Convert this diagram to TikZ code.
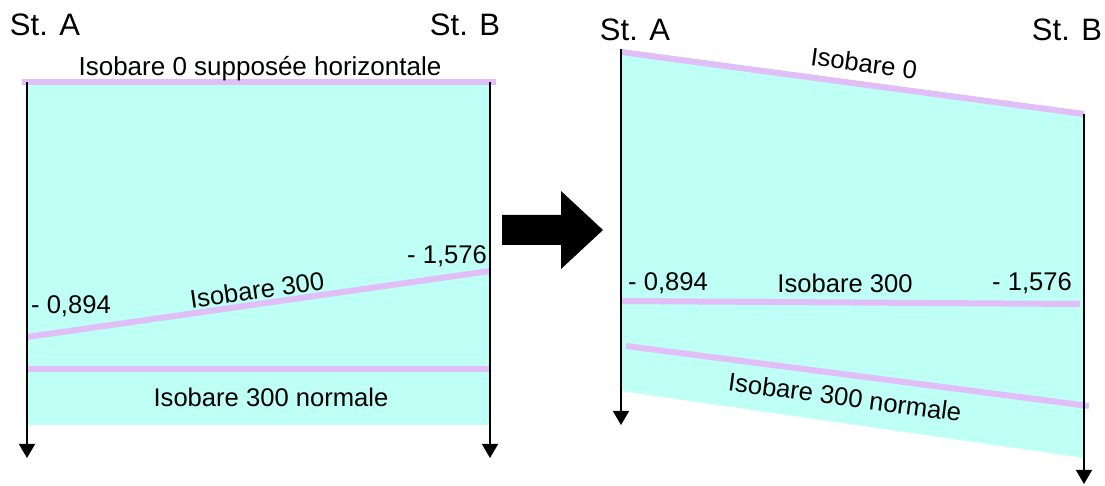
\documentclass[tikz,border=0pt]{standalone}
\usepackage{fontspec}
\setmainfont{Liberation Sans}
\usetikzlibrary{arrows.meta}
\definecolor{nappe}{RGB}{190,255,246}
\definecolor{isob}{RGB}{226,190,248}
\begin{document}
\begin{tikzpicture}[x=0.5pt, y=-0.5pt,
  station/.style={font=\fontsize{15.5}{17}\selectfont, inner sep=0pt},
  label/.style={font=\fontsize{12.8}{14}\selectfont, inner sep=0pt},
  axis/.style={line width=0.8pt, black, -{Triangle[width=8pt, length=7pt]}},
  isobare/.style={line width=3pt, isob}
]
  \useasboundingbox (0,0) rectangle (1105,486);

  % ── Left panel: normal situation ───────────────────────────────────────
  \coordinate (LAtop) at (27,82);   \coordinate (LAbot) at (27,458);
  \coordinate (LBtop) at (490,82);  \coordinate (LBbot) at (490,458);
  \fill[nappe] (27,82) rectangle (490,425);
  \draw[isobare] (22,82) -- (496,82);
  \draw[isobare] (27,337) -- (490,271);
  \draw[isobare] (27,369) -- (490,369);
  \draw[axis] (LAtop) -- (LAbot);
  \draw[axis] (LBtop) -- (LBbot);
  \node[station] (lsta) at (45,25)  {St. A};
  \node[station] (lstb) at (465,25) {St. B};
  \node[label, font=\fontsize{13}{15}\selectfont] (liso0) at (260,69) {Isobare 0 supposée horizontale};
  \node[label] (lva) at (71,306)  {- 0,894};
  \node[label] (lvb) at (447,256) {- 1,576};
  \node[label, rotate=8.1] (liso3) at (257,290) {Isobare 300};
  \node[label] (lnorm) at (271,397) {Isobare 300 normale};

  % ── Block arrow ────────────────────────────────────────────────────────
  \fill[black] (502,215) -- (561,215) -- (561,191) -- (603,230)
               -- (561,269) -- (561,245) -- (502,245) -- cycle;

  % ── Right panel: tilted situation ──────────────────────────────────────
  \coordinate (RAtop) at (621,49);   \coordinate (RAbot) at (621,425);
  \coordinate (RBtop) at (1084,114); \coordinate (RBbot) at (1084,484);
  \fill[nappe] (621,49) -- (1084,112) -- (1084,458) -- (621,391) -- cycle;
  \draw[isobare] (621,52) -- (1084,114);
  \draw[isobare] (621,301) -- (1080,304);
  \draw[isobare] (626,346) -- (1089,406);
  \draw[axis] (RAtop) -- (RAbot);
  \draw[axis] (RBtop) -- (RBbot);
  \node[station] (rsta) at (635,30)  {St. A};
  \node[station] (rstb) at (1067,30) {St. B};
  \node[label, rotate=-7.6] (riso0) at (864,63) {Isobare 0};
  \node[label] (rva) at (668,283)  {- 0,894};
  \node[label] (riso3) at (845,283) {Isobare 300};
  \node[label] (rvb) at (1032,283) {- 1,576};
  \node[label, rotate=-7.6] (rnorm) at (845,397) {Isobare 300 normale};
\end{tikzpicture}
\end{document}
